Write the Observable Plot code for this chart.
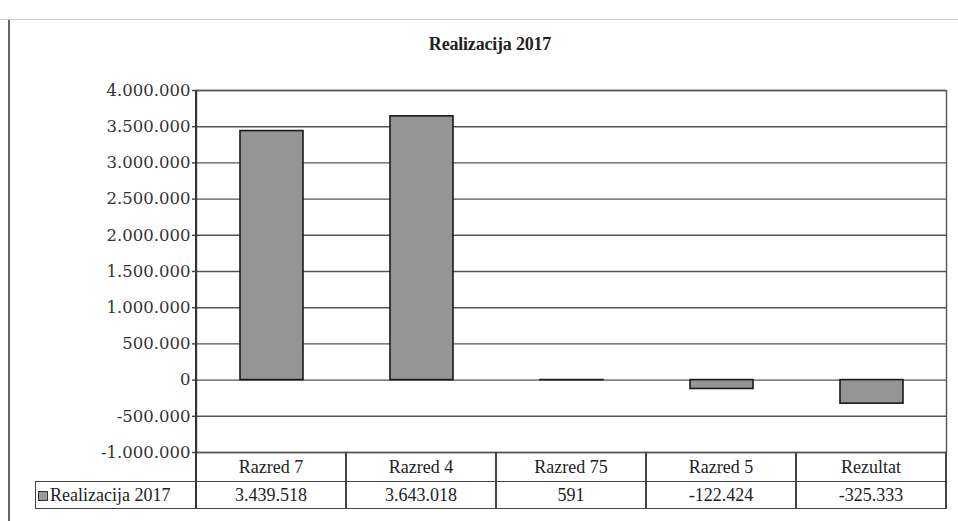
<!DOCTYPE html>
<html><head><meta charset="utf-8">
<script src="https://cdn.jsdelivr.net/npm/d3@7"></script>
<script src="https://cdn.jsdelivr.net/npm/@observablehq/plot@0.6"></script>
<style>
body{margin:0;background:#fff;}
#c{position:relative;width:958px;height:521px;overflow:hidden;font-family:"Liberation Serif","Times New Roman",serif;color:#222;background:#fff;}
#c svg{position:absolute;left:0;top:0;}
.ln{position:absolute;background:#444;}
.cell{position:absolute;text-align:center;font-family:"Liberation Serif","Times New Roman",serif;font-size:18px;color:#222;white-space:nowrap;}
#title{position:absolute;left:0;width:980px;top:34px;text-align:center;font-family:"Liberation Serif","Times New Roman",serif;font-weight:bold;font-size:18px;color:#222;letter-spacing:-0.2px;}
</style></head><body><div id="c"></div>
<script>
const categories = ["Razred 7", "Razred 4", "Razred 75", "Razred 5", "Rezultat"];
const values = [3439518, 3643018, 591, -122424, -325333];
const valueLabels = ["3.439.518", "3.643.018", "591", "-122.424", "-325.333"];
const seriesName = "Realizacija 2017";
const titleText = "Realizacija 2017";
const yTicks = [-1000000, -500000, 0, 500000, 1000000, 1500000, 2000000, 2500000, 3000000, 3500000, 4000000];

const data = categories.map((c, i) => ({category: c, value: values[i]}));
const fmt = d => (d < 0 ? "-" : "") + d3.format(",")(Math.abs(d)).replace(/,/g, ".");

const C = document.getElementById("c");

// outer frame (scan border)
const topB = document.createElement("div");
topB.style.cssText = "position:absolute;left:0;top:19px;width:958px;height:1px;background:#ccc;";
C.appendChild(topB);
const leftB = document.createElement("div");
leftB.style.cssText = "position:absolute;left:8px;top:20px;width:2px;height:501px;background:#666;";
C.appendChild(leftB);

const ML = 196, MR = 12, MT = 90, FB = 452;
const chart = Plot.plot({
  width: 958,
  height: FB + 1,
  marginLeft: ML,
  marginRight: MR,
  marginTop: MT,
  marginBottom: 1,
  style: {background: "transparent", fontFamily: "DejaVu Serif, serif", fontSize: "16.5px", color: "#333", overflow: "visible"},
  x: {domain: categories, paddingInner: 0.58, paddingOuter: 0.29, axis: null},
  y: {domain: [-1000000, 4000000], axis: null},
  marks: [
    Plot.gridY(yTicks, {stroke: "#555", strokeOpacity: 1, strokeWidth: 1.4}),
    Plot.axisY(yTicks, {tickFormat: fmt, label: null, tickSize: 4, tickPadding: 2, stroke: "#444", fill: "#333", strokeWidth: 1.4}),
    Plot.barY(data, {x: "category", y: "value", fill: "#959595", stroke: "#1a1a1a", strokeWidth: 1.6}),
    Plot.frame({stroke: "#555", strokeWidth: 1.4})
  ]
});
C.appendChild(chart);

// left axis line darker
const ax = document.createElement("div");
ax.className = "ln";
ax.style.cssText += `left:${ML - 1}px;top:${MT}px;width:2px;height:${508 - MT}px;background:#333;`;
C.appendChild(ax);

const title = document.createElement("div");
title.id = "title";
title.textContent = titleText;
C.appendChild(title);

// data table
const TL = 35, COLW = (958 - MR - ML) / categories.length, R1 = FB, R2 = 481, R3 = 508;
function line(x, y, w, h) {
  const d = document.createElement("div");
  d.className = "ln";
  d.style.left = x + "px"; d.style.top = y + "px"; d.style.width = w + "px"; d.style.height = h + "px";
  C.appendChild(d);
}
line(TL, R2, 958 - MR - TL + 1, 1.4);
line(TL, R3, 958 - MR - TL + 1, 1.4);
line(TL, R2, 1.4, R3 - R2 + 1);
categories.forEach((c, i) => {
  line(ML + COLW * (i + 1) - 0.7, R1, 1.4, R3 - R1 + 1);
  const h = document.createElement("div");
  h.className = "cell";
  h.style.cssText += `left:${ML + COLW * i}px;width:${COLW}px;top:${R1}px;height:${R2 - R1}px;line-height:${R2 - R1 + 2}px;`;
  h.textContent = c;
  C.appendChild(h);
  const v = document.createElement("div");
  v.className = "cell";
  v.style.cssText += `left:${ML + COLW * i}px;width:${COLW}px;top:${R2}px;height:${R3 - R2}px;line-height:${R3 - R2 + 2}px;`;
  v.textContent = valueLabels[i];
  C.appendChild(v);
});
// legend cell
const lg = document.createElement("div");
lg.className = "cell";
lg.style.cssText += `left:${TL + 3}px;width:${ML - TL - 3}px;top:${R2}px;height:${R3 - R2}px;line-height:${R3 - R2 + 2}px;text-align:left;`;
const sw = document.createElement("span");
sw.style.cssText = "display:inline-block;width:8px;height:8px;background:#999;border:1.5px solid #333;margin-right:2px;vertical-align:0px;";
lg.appendChild(sw);
lg.appendChild(document.createTextNode(seriesName));
C.appendChild(lg);
</script></body></html>
